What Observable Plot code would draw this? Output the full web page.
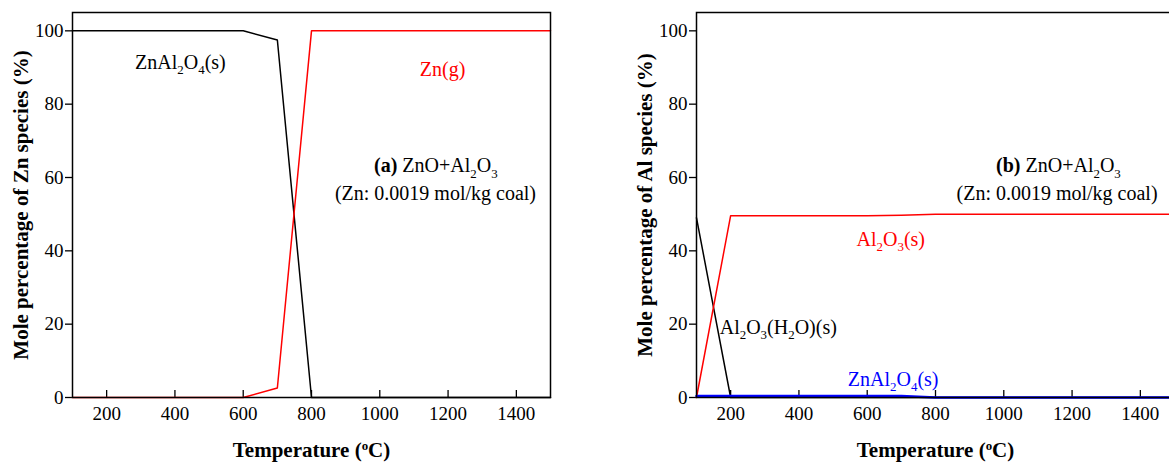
<!DOCTYPE html>
<html>
<head>
<meta charset="utf-8">
<script src="https://cdn.jsdelivr.net/npm/d3@7"></script>
<script src="https://cdn.jsdelivr.net/npm/@observablehq/plot@0.6"></script>
<style>
  html, body { margin: 0; padding: 0; background: #fff; overflow: hidden; }
  #wrap { position: relative; width: 1169px; height: 463px; overflow: hidden; }
  #wrap svg { position: absolute; top: 0; }
</style>
</head>
<body>
<div id="wrap"></div>
<script>
// ---------- data ----------
const temps = [100, 200, 300, 400, 500, 600, 700, 800, 900, 1000, 1100, 1200, 1300, 1400, 1500];

// (a) Zn species
const a_ZnAl2O4 = [100, 100, 100, 100, 100, 100, 97.5, 0, 0, 0, 0, 0, 0, 0, 0];
const a_Zn_g    = [0, 0, 0, 0, 0, 0, 2.6, 100, 100, 100, 100, 100, 100, 100, 100];

// (b) Al species
const b_Al2O3H2O = [49, 0, 0, 0, 0, 0, 0, 0, 0, 0, 0, 0, 0, 0, 0];
const b_Al2O3    = [0, 49.6, 49.6, 49.6, 49.6, 49.6, 49.7, 50, 50, 50, 50, 50, 50, 50, 50];
const b_ZnAl2O4  = [0.4, 0.4, 0.4, 0.4, 0.4, 0.4, 0.4, 0, 0, 0, 0, 0, 0, 0, 0];

const xTicks = [200, 400, 600, 800, 1000, 1200, 1400];
const yTicks = [0, 20, 40, 60, 80, 100];
const xLabel = "Temperature (^{o}C)";
const yLabelA = "Mole percentage of Zn species (%)";
const yLabelB = "Mole percentage of Al species (%)";

const labelsA = [
  {x: 416, y: 91.4, text: "ZnAl_{2}O_{4}(s)", color: "black", anchor: "middle"},
  {x: 1184, y: 89.5, text: "Zn(g)", color: "red", anchor: "middle"},
  {x: 1164, y: 63.2, text: "*(a)* ZnO+Al_{2}O_{3}", color: "black", anchor: "middle"},
  {x: 1163, y: 55.5, text: "(Zn: 0.0019 mol/kg coal)", color: "black", anchor: "middle"}
];
const labelsB = [
  {x: 1160, y: 63.2, text: "*(b)* ZnO+Al_{2}O_{3}", color: "black", anchor: "middle"},
  {x: 1156, y: 55.5, text: "(Zn: 0.0019 mol/kg coal)", color: "black", anchor: "middle"},
  {x: 669, y: 43.2, text: "Al_{2}O_{3}(s)", color: "red", anchor: "middle"},
  {x: 168, y: 19.1, text: "Al_{2}O_{3}(H_{2}O)(s)", color: "black", anchor: "start"},
  {x: 676, y: 5.0, text: "ZnAl_{2}O_{4}(s)", color: "blue", anchor: "middle"}
];

const seriesA = [
  {values: a_ZnAl2O4, color: "black", w: 1.5},
  {values: a_Zn_g, color: "red", w: 1.5}
];
const seriesB = [
  {values: b_Al2O3H2O, color: "black", w: 1.5},
  {values: b_Al2O3, color: "red", w: 1.5},
  {values: b_ZnAl2O4, color: "blue", w: 2.5}
];

// ---------- rich text (sub/superscript, bold) ----------
const NS = "http://www.w3.org/2000/svg";
function richify(svg) {
  svg.querySelectorAll("text").forEach(el => {
    const s = el.textContent;
    if (!/[_^*]/.test(s)) return;
    const size = parseFloat(el.getAttribute("font-size")) || 19;
    el.textContent = "";
    const re = /_\{([^}]*)\}|\^\{([^}]*)\}|\*([^*]*)\*|([^_^*]+)/g;
    let shift = 0;
    for (const m of s.matchAll(re)) {
      const t = document.createElementNS(NS, "tspan");
      let target = 0;
      if (m[1] != null) { t.textContent = m[1]; target = 0.28 * size; t.setAttribute("font-size", 0.68 * size); }
      else if (m[2] != null) { t.textContent = m[2]; target = -0.38 * size; t.setAttribute("font-size", 0.68 * size); }
      else if (m[3] != null) { t.textContent = m[3]; t.setAttribute("font-weight", "bold"); }
      else { t.textContent = m[4]; }
      const dy = target - shift;
      if (dy) t.setAttribute("dy", dy);
      shift = target;
      el.appendChild(t);
    }
  });
}

// ---------- panel ----------
const H = 463, MT = 12, MB = 66;
function panel({series, yLabel, labels, marginLeft, width, left}) {
  const marks = series.map(s => {
    const data = temps.map((t, j) => ({t, v: s.values[j]}));
    return Plot.line(data, {x: "t", y: "v", stroke: s.color, strokeWidth: s.w});
  });
  const plotH = H - MT - MB;
  const labelMarks = ["start", "middle", "end"].map(a =>
    Plot.text(labels.filter(d => d.anchor === a), {x: "x", y: "y", text: "text", fill: "color", textAnchor: a, lineAnchor: "middle", fontSize: 20})
  );
  const svg = Plot.plot({
    width, height: H,
    marginLeft, marginRight: width - marginLeft - 478,
    marginTop: MT, marginBottom: MB,
    style: {fontFamily: "Liberation Serif", fontSize: "19px", background: "transparent", color: "black"},
    x: {domain: [100, 1500]},
    y: {domain: [0, 105]},
    marks: [
      Plot.axisX({ticks: xTicks, tickSize: 0, tickPadding: 9, label: null, tickFormat: d => String(d), fontSize: 19}),
      Plot.tickX(xTicks, {x: d => d, insetTop: plotH - 7, stroke: "black", strokeWidth: 1.3}),
      Plot.axisY({ticks: yTicks, tickSize: 7, tickPadding: 2, label: null, strokeWidth: 1.3, fontSize: 19}),
      ...marks,
      Plot.frame({stroke: "black", strokeWidth: 1.5}),
      ...labelMarks,
      Plot.text([xLabel], {text: d => d, frameAnchor: "bottom", dy: 53, lineAnchor: "middle", textAnchor: "middle", fontWeight: "bold", fontSize: 21}),
      Plot.text([yLabel], {text: d => d, frameAnchor: "left", dx: -51, rotate: -90, lineAnchor: "middle", textAnchor: "middle", fontWeight: "bold", fontSize: 21})
    ]
  });
  richify(svg);
  svg.setAttribute("font-family", "Liberation Serif");
  svg.style.left = left + "px";
  document.getElementById("wrap").appendChild(svg);
  return svg;
}

panel({series: seriesA, yLabel: yLabelA, labels: labelsA, marginLeft: 72, width: 590, left: 0});
panel({series: seriesB, yLabel: yLabelB, labels: labelsB, marginLeft: 106, width: 624, left: 590});
</script>
</body>
</html>
